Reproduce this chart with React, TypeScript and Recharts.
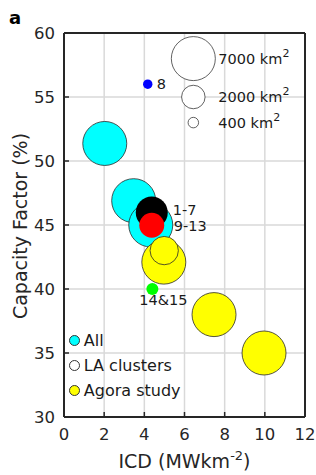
import React from 'react';
import {
  ScatterChart,
  Scatter,
  XAxis,
  YAxis,
  ZAxis,
  CartesianGrid,
  LabelList,
  Legend,
  Label,
} from 'recharts';

const xTicks = [0, 2, 4, 6, 8, 10, 12];
const yTicks = [30, 35, 40, 45, 50, 55, 60];

const allPoints = [
  { x: 2.03, y: 51.37, z: 7000 },
  { x: 3.47, y: 46.9, z: 7000 },
  { x: 4.32, y: 45.0, z: 7000 },
];
const cluster1to7 = [{ x: 4.37, y: 45.98, z: 3700, label: '1-7' }];
const cluster9to13 = [{ x: 4.37, y: 44.98, z: 2250, label: '9-13' }];
const cluster8 = [{ x: 4.17, y: 56.0, z: 320, label: '8' }];
const cluster14and15 = [{ x: 4.4, y: 40.0, z: 520, label: '14&15' }];
const agoraPoints = [
  { x: 4.97, y: 42.1, z: 7000 },
  { x: 4.99, y: 43.0, z: 2900 },
  { x: 7.47, y: 38.0, z: 7000 },
  { x: 9.96, y: 35.0, z: 7000 },
];
const sizeKey = [
  { x: 6.44, y: 58, z: 7000, label: '7000' },
  { x: 6.44, y: 55, z: 2000, label: '2000' },
  { x: 6.44, y: 53, z: 400, label: '400' },
];
const legendItems = [
  { label: 'All', color: '#00ffff' },
  { label: 'LA clusters', color: '#ffffff' },
  { label: 'Agora study', color: '#ffff00' },
];

const FONT = 'DejaVu Sans';
const AXIS = '#262626';
const TEXT = '#1a1a1a';

const center = (props: any) => {
  const vb = props.viewBox && props.viewBox.width != null ? props.viewBox : props;
  return { cx: vb.x + vb.width / 2, cy: vb.y + vb.height / 2 };
};

const makeLabel = (dx: number, dy: number, anchor: string = 'start') => (props: any) => {
  const { cx, cy } = center(props);
  return (
    <text x={cx + dx} y={cy + dy + 5} textAnchor={anchor} fontSize={14.5} fill={TEXT} fontFamily={FONT}>
      {props.value}
    </text>
  );
};

const sizeLabel = (props: any) => {
  const { cx, cy } = center(props);
  return (
    <text x={cx + 25} y={cy + 5} fontSize={14.5} fill={TEXT} fontFamily={FONT}>
      {props.value} km
      <tspan dy={-7} fontSize={11}>
        2
      </tspan>
    </text>
  );
};

const XTitle = (props: any) => {
  const vb = props.viewBox;
  return (
    <text x={vb.x + vb.width / 2} y={vb.y + 51} textAnchor="middle" fontSize={19} fill={AXIS} fontFamily={FONT}>
      ICD (MWkm
      <tspan dy={-8} fontSize={13}>
        -2
      </tspan>
      <tspan dy={8}>)</tspan>
    </text>
  );
};

const YTitle = (props: any) => {
  const vb = props.viewBox;
  const x = vb.x + 27;
  const y = vb.y + vb.height / 2 + 1;
  return (
    <text x={x} y={y} transform={`rotate(-90, ${x}, ${y})`} textAnchor="middle" fontSize={19} fill={AXIS} fontFamily={FONT}>
      Capacity Factor (%)
    </text>
  );
};

const PanelTag = (props: any) => {
  const vb = props.viewBox;
  return (
    <text x={vb.x - 55} y={vb.y - 8} fontSize={18} fontWeight="bold" fill="#000" fontFamily={FONT}>
      a
    </text>
  );
};

const renderLegend = () => (
  <div style={{ fontFamily: FONT, fontSize: 16, color: TEXT }}>
    {legendItems.map((item) => (
      <div key={item.label} style={{ display: 'flex', alignItems: 'center', height: 25.2, whiteSpace: 'nowrap' }}>
        <span
          style={{
            display: 'inline-block',
            width: 11,
            height: 11,
            borderRadius: '50%',
            background: item.color,
            border: '0.8px solid #333',
            boxSizing: 'border-box',
            marginRight: 4,
          }}
        />
        <span>{item.label}</span>
      </div>
    ))}
  </div>
);

const axisLine = { stroke: AXIS, strokeWidth: 2 };
const tickLine = { stroke: AXIS, strokeWidth: 1.5 };
const tickStyle = { fill: AXIS, fontSize: 16.5, fontFamily: FONT };
const outline = '#2a2a2a';

export default function App() {
  return (
    <div style={{ position: 'absolute', left: 0, top: 0, fontFamily: FONT }}>
      <ScatterChart width={316} height={475} margin={{ top: 32, right: 10, bottom: 0, left: 0 }} style={{ fontFamily: FONT }}>
        <CartesianGrid stroke="#d9d9d9" strokeWidth={1.5} />
        <XAxis
          type="number"
          dataKey="x"
          domain={[0, 12]}
          ticks={xTicks}
          allowDataOverflow
          interval={0}
          height={58}
          tickSize={-5}
          tickMargin={16}
          axisLine={axisLine}
          tickLine={tickLine}
          tick={tickStyle}
        >
          <Label content={XTitle} />
        </XAxis>
        <YAxis
          type="number"
          dataKey="y"
          domain={[30, 60]}
          ticks={yTicks}
          allowDataOverflow
          interval={0}
          width={64}
          tickSize={-5}
          tickMargin={14}
          axisLine={axisLine}
          tickLine={tickLine}
          tick={tickStyle}
        >
          <Label content={YTitle} />
        </YAxis>
        <XAxis
          xAxisId="top"
          orientation="top"
          type="number"
          domain={[0, 12]}
          ticks={xTicks}
          allowDataOverflow
          interval={0}
          height={1}
          tickSize={-5}
          tick={false}
          axisLine={axisLine}
          tickLine={tickLine}
        >
          <Label content={PanelTag} />
        </XAxis>
        <YAxis
          yAxisId="right"
          orientation="right"
          type="number"
          domain={[30, 60]}
          ticks={yTicks}
          allowDataOverflow
          interval={0}
          width={1}
          tickSize={-5}
          tick={false}
          axisLine={axisLine}
          tickLine={tickLine}
        />
        <ZAxis type="number" dataKey="z" domain={[0, 7000]} range={[0, 1520]} />
        <Legend layout="vertical" align="center" verticalAlign="middle" content={renderLegend} wrapperStyle={{ left: 68.8, top: 328, width: 'auto', height: 'auto' }} />
        <Scatter name="size key" data={sizeKey} fill="#ffffff" stroke="#3a3a3a" strokeWidth={0.8} isAnimationActive={false} legendType="none">
          <LabelList dataKey="label" content={sizeLabel} />
        </Scatter>
        <Scatter name="All" data={allPoints} fill="#00ffff" stroke={outline} strokeWidth={0.8} isAnimationActive={false} />
        <Scatter name="1-7" data={cluster1to7} fill="#000000" isAnimationActive={false} legendType="none">
          <LabelList dataKey="label" content={makeLabel(21, -2.7)} />
        </Scatter>
        <Scatter name="9-13" data={cluster9to13} fill="#ff0000" isAnimationActive={false} legendType="none">
          <LabelList dataKey="label" content={makeLabel(22, 1)} />
        </Scatter>
        <Scatter name="8" data={cluster8} fill="#0000ff" isAnimationActive={false} legendType="none">
          <LabelList dataKey="label" content={makeLabel(9, 0)} />
        </Scatter>
        <Scatter name="14&15" data={cluster14and15} fill="#00ff00" isAnimationActive={false} legendType="none">
          <LabelList dataKey="label" content={makeLabel(-13, 11)} />
        </Scatter>
        <Scatter name="Agora study" data={agoraPoints} fill="#ffff00" stroke={outline} strokeWidth={0.8} isAnimationActive={false} />
      </ScatterChart>
    </div>
  );
}
